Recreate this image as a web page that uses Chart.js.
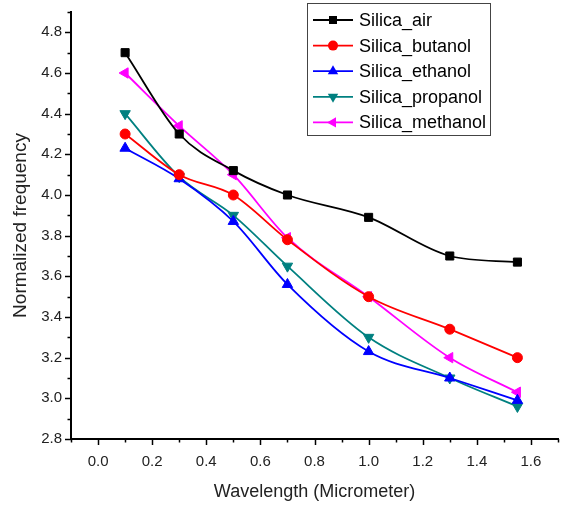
<!DOCTYPE html>
<html>
<head>
<meta charset="utf-8">
<script src="https://cdn.jsdelivr.net/npm/chart.js@4/dist/chart.umd.min.js"></script>
<style>
  html, body { margin: 0; padding: 0; background: #fff; }
  #wrap { width: 569px; height: 509px; position: relative; }
</style>
</head>
<body>
<div id="wrap"><canvas id="c" width="569" height="509"></canvas></div>
<script>
const wavelengths = [0.1, 0.3, 0.5, 0.7, 1.0, 1.3, 1.55];
const silicaAir = [4.70, 4.30, 4.12, 4.00, 3.89, 3.70, 3.67];
const silicaButanol = [4.30, 4.10, 4.00, 3.78, 3.50, 3.34, 3.20];
const silicaEthanol = [4.23, 4.08, 3.87, 3.56, 3.23, 3.10, 2.99];
const silicaPropanol = [4.40, 4.09, 3.90, 3.65, 3.30, 3.10, 2.96];
const silicaMethanol = [4.60, 4.34, 4.10, 3.79, 3.50, 3.20, 3.03];
const seriesNames = ['Silica_air', 'Silica_butanol', 'Silica_ethanol', 'Silica_propanol', 'Silica_methanol'];
const xTitle = 'Wavelength (Micrometer)';
const yTitle = 'Normalized frequency';

const FONT = "'Liberation Sans', Arial, sans-serif";
const styles = [
  {color: '#000000', style: 'rect', radius: 5.7, rotation: 0},
  {color: '#ff0000', style: 'circle', radius: 5, rotation: 0},
  {color: '#0000ff', style: 'triangle', radius: 6, rotation: 0},
  {color: '#008080', style: 'triangle', radius: 6, rotation: 180},
  {color: '#ff00ff', style: 'triangle', radius: 6, rotation: -90}
];
const allSeries = [silicaAir, silicaButanol, silicaEthanol, silicaPropanol, silicaMethanol];

const datasets = allSeries.map((vals, i) => ({
  label: seriesNames[i],
  data: vals.map((v, j) => ({x: wavelengths[j], y: v})),
  borderColor: styles[i].color,
  backgroundColor: styles[i].color,
  pointBackgroundColor: styles[i].color,
  pointBorderColor: styles[i].color,
  pointStyle: styles[i].style,
  pointRadius: styles[i].radius,
  pointRotation: styles[i].rotation,
  pointBorderWidth: 1,
  borderWidth: 1.8,
  cubicInterpolationMode: 'monotone',
  fill: false
}));

function drawMarker(ctx, style, x, y, r, rot, color) {
  ctx.save();
  ctx.fillStyle = color;
  ctx.strokeStyle = color;
  ctx.translate(x, y);
  ctx.rotate(rot * Math.PI / 180);
  ctx.beginPath();
  if (style === 'rect') {
    const s = r * Math.SQRT1_2;
    ctx.rect(-s, -s, 2 * s, 2 * s);
  } else if (style === 'circle') {
    ctx.arc(0, 0, r, 0, Math.PI * 2);
  } else {
    const a = Math.PI / 2;
    ctx.moveTo(r * Math.cos(-a), r * Math.sin(-a));
    ctx.lineTo(r * Math.cos(-a + 2 * Math.PI / 3), r * Math.sin(-a + 2 * Math.PI / 3));
    ctx.lineTo(r * Math.cos(-a + 4 * Math.PI / 3), r * Math.sin(-a + 4 * Math.PI / 3));
    ctx.closePath();
  }
  ctx.fill();
  ctx.restore();
}

const tickPlugin = {
  id: 'originTicks',
  afterDraw(chart) {
    const ctx = chart.ctx;
    const xs = chart.scales.x, ys = chart.scales.y;
    const area = chart.chartArea;
    ctx.save();
    ctx.strokeStyle = '#000';
    ctx.lineWidth = 1.5;
    xs.ticks.forEach(t => {
      const major = Math.round(t.value * 10) % 2 === 0;
      const px = Math.round(xs.getPixelForValue(t.value)) + 0.5;
      ctx.beginPath();
      ctx.moveTo(px, area.bottom);
      ctx.lineTo(px, area.bottom + (major ? 6 : 3.5));
      ctx.stroke();
    });
    ys.ticks.forEach(t => {
      const major = Math.round(t.value * 10) % 2 === 0;
      const py = Math.round(ys.getPixelForValue(t.value)) + 0.5;
      ctx.beginPath();
      ctx.moveTo(area.left, py);
      ctx.lineTo(area.left - (major ? 6 : 3.5), py);
      ctx.stroke();
    });
    ctx.restore();
  }
};

const legendPlugin = {
  id: 'boxLegend',
  afterDraw(chart) {
    const ctx = chart.ctx;
    ctx.save();
    ctx.strokeStyle = '#444';
    ctx.lineWidth = 1;
    ctx.strokeRect(307.5, 3.5, 183, 132);
    chart.data.datasets.forEach((ds, i) => {
      const cy = 20 + i * 25.6;
      ctx.strokeStyle = ds.borderColor;
      ctx.lineWidth = 1.8;
      ctx.beginPath();
      ctx.moveTo(313, cy);
      ctx.lineTo(353, cy);
      ctx.stroke();
      drawMarker(ctx, ds.pointStyle, 333, cy, ds.pointRadius, ds.pointRotation, ds.borderColor);
      ctx.fillStyle = '#000';
      ctx.font = '18px ' + FONT;
      ctx.textBaseline = 'middle';
      ctx.textAlign = 'left';
      ctx.fillText(ds.label, 359, cy + 1);
    });
    ctx.restore();
  }
};

new Chart(document.getElementById('c'), {
  type: 'line',
  data: {datasets},
  plugins: [tickPlugin, legendPlugin],
  options: {
    responsive: false,
    animation: false,
    devicePixelRatio: 1,
    layout: {padding: {top: 8, right: 11, left: 0, bottom: 0}},
    plugins: {legend: {display: false}, tooltip: {enabled: false}},
    scales: {
      x: {
        type: 'linear',
        min: -0.1, max: 1.7,
        afterFit(s) { s.height = 70; },
        border: {display: true, color: '#000', width: 2},
        grid: {display: true, drawOnChartArea: false, drawTicks: true, tickLength: 6, color: 'rgba(0,0,0,0)'},
        ticks: {
          stepSize: 0.1, autoSkip: false, maxRotation: 0, padding: 8,
          color: '#222', font: {family: FONT, size: 15},
          callback(v) { return Math.round(v * 10) % 2 === 0 ? Number(v).toFixed(1) : ''; }
        },
        title: {display: true, text: xTitle, color: '#222', font: {family: FONT, size: 18}, padding: {top: 0, bottom: 6}}
      },
      y: {
        type: 'linear',
        min: 2.8, max: 4.9,
        afterFit(s) { s.width = 71; },
        border: {display: true, color: '#000', width: 2},
        grid: {display: true, drawOnChartArea: false, drawTicks: true, tickLength: 6, color: 'rgba(0,0,0,0)'},
        ticks: {
          stepSize: 0.1, autoSkip: false, padding: 3,
          color: '#222', font: {family: FONT, size: 15},
          callback(v) { return Math.round(v * 10) % 2 === 0 ? Number(v).toFixed(1) : ''; }
        },
        title: {display: true, text: yTitle, color: '#222', font: {family: FONT, size: 19}, padding: {top: 9, bottom: 0}}
      }
    }
  }
});
</script>
</body>
</html>
